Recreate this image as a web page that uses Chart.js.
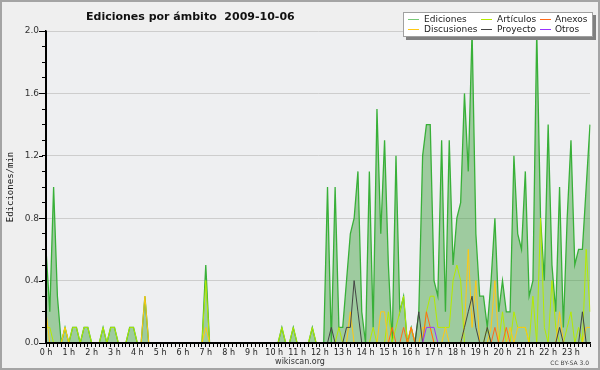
<!DOCTYPE html>
<html><head><meta charset="utf-8">
<script src="https://cdn.jsdelivr.net/npm/chart.js@4/dist/chart.umd.min.js"></script>
<style>html,body{margin:0;padding:0;background:#efefef}canvas{display:block}</style>
</head><body>
<canvas id="c" width="600" height="370"></canvas>
<script>
// hour tick labels
const hourLabels = ['0 h','1 h','2 h','3 h','4 h','5 h','6 h','7 h','8 h','9 h','10 h','11 h',
  '12 h','13 h','14 h','15 h','16 h','17 h','18 h','19 h','20 h','21 h','22 h','23 h'];
const slotsPerHour = ['00','10','20','30','40','50'];
const titleText = 'Ediciones por ámbito  2009-10-06';
const yTitle = 'Ediciones/min';

// edits per minute, 10-minute bins (6 per hour)
const ediciones = [
  0.6,0.2,1.0,0.3,0,0.1,   0,0.1,0.1,0,0.1,0.1,
  0,0,0,0.1,0,0.1,        0.1,0,0,0,0.1,0.1,
  0,0,0.3,0,0,0,          0,0,0,0,0,0,
  0,0,0,0,0,0,            0.5,0,0,0,0,0,
  0,0,0,0,0,0,            0,0,0,0,0,0,
  0,0,0.1,0,0,0.1,        0,0,0,0,0.1,0,
  0,0,1.0,0,1.0,0.1,      0.1,0.4,0.7,0.8,1.1,0.2,
  0,1.1,0.1,1.5,0.7,1.3,  0.5,0,1.2,0.2,0.3,0,
  0.1,0,0.2,1.2,1.4,1.4,  0.4,0.3,1.3,0.2,1.3,0.5,
  0.8,0.9,1.6,1.1,2.0,0.7, 0.3,0.3,0.1,0.4,0.8,0.2,
  0.4,0.2,0.2,1.2,0.7,0.6, 1.1,0.3,0.4,2.0,0.8,0.4,
  1.4,0.5,0.2,1.0,0.1,0.8, 1.3,0.5,0.6,0.6,1.0,1.4
];
const articulos = [
  0.1,0.1,0,0,0,0.1,      0,0.1,0.1,0,0.1,0.1,
  0,0,0,0.1,0,0.1,        0.1,0,0,0,0.1,0.1,
  0,0,0,0,0,0,            0,0,0,0,0,0,
  0,0,0,0,0,0,            0.4,0,0,0,0,0,
  0,0,0,0,0,0,            0,0,0,0,0,0,
  0,0,0.1,0,0,0.1,        0,0,0,0,0.1,0,
  0,0,0,0,0,0.1,          0,0,0,0,0,0,
  0,0,0.1,0,0,0,          0.2,0,0.1,0.2,0.3,0,
  0.1,0,0,0,0.2,0.3,      0.3,0.1,0.1,0.1,0.1,0.4,
  0.5,0.4,0,0,0,0,        0,0,0.1,0,0,0,
  0.2,0,0,0.2,0.1,0.1,    0.1,0,0.3,0,0.8,0.1,
  0,0.4,0.1,0,0,0.1,      0.2,0,0.1,0,0.6,0.2
];
const discusiones = [
  0.2,0,0,0,0,0.1,        0,0,0,0,0,0,
  0,0,0,0,0,0,            0,0,0,0,0,0,
  0,0,0.3,0,0,0,          0,0,0,0,0,0,
  0,0,0,0,0,0,            0.1,0,0,0,0,0,
  0,0,0,0,0,0,            0,0,0,0,0,0,
  0,0,0,0,0,0,            0,0,0,0,0,0,
  0,0,0,0,0,0,            0,0,0.2,0,0,0,
  0,0,0,0,0.2,0.2,        0,0,0,0,0,0,
  0.1,0,0,0.1,0.1,0.1,    0,0,0,0.1,0,0,
  0,0,0.1,0.6,0.1,0.4,    0,0,0,0.1,0.4,0,
  0,0,0.1,0,0.1,0.1,      0.1,0,0,0,0,0,
  0,0,0,0.2,0,0,          0,0,0,0,0.1,0.1
];
const anexos = [
  0,0,0,0,0,0, 0,0,0,0,0,0,  0,0,0,0,0,0, 0,0,0,0,0,0,
  0,0,0,0,0,0, 0,0,0,0,0,0,  0,0,0,0,0,0, 0,0,0,0,0,0,
  0,0,0,0,0,0, 0,0,0,0,0,0,  0,0,0,0,0,0, 0,0,0,0,0,0,
  0,0,0,0,0,0, 0,0,0,0,0,0,  0,0,0,0,0,0, 0,0.1,0,0,0.1,0,
  0.1,0,0,0,0.2,0.1,        0,0,0,0,0,0,
  0,0,0,0,0,0,              0,0,0,0,0.1,0,
  0,0.1,0,0,0,0,            0,0,0,0,0,0
];
const proyecto = [
  0,0,0,0,0,0, 0,0,0,0,0,0,  0,0,0,0,0,0, 0,0,0,0,0,0,
  0,0,0,0,0,0, 0,0,0,0,0,0,  0,0,0,0,0,0, 0,0,0,0,0,0,
  0,0,0,0,0,0, 0,0,0,0,0,0,  0,0,0,0,0,0, 0,0,0,0,0,0,
  0,0,0,0.1,0,0,            0,0.1,0.1,0.4,0.2,0,
  0,0,0,0,0,0,              0,0,0,0,0,0,
  0,0,0.2,0,0,0,            0,0,0,0,0,0,
  0,0,0.1,0.2,0.3,0.1,      0,0,0.1,0,0,0,
  0,0,0,0,0,0,              0,0,0,0,0,0,
  0,0,0,0.1,0,0,            0,0,0,0.2,0,0
];
const otros = [
  0,0,0,0,0,0, 0,0,0,0,0,0,  0,0,0,0,0,0, 0,0,0,0,0,0,
  0,0,0,0,0,0, 0,0,0,0,0,0,  0,0,0,0,0,0, 0,0,0,0,0,0,
  0,0,0,0,0,0, 0,0,0,0,0,0,  0,0,0,0,0,0, 0,0,0,0,0,0,
  0,0,0,0,0,0, 0,0,0,0,0,0,  0,0,0,0,0,0, 0,0,0,0,0,0,
  0,0,0,0,0.1,0.1,          0.1,0,0,0,0,0,
  0,0,0,0,0,0,              0,0,0,0,0,0,
  0,0,0,0,0,0,              0,0,0,0,0,0
];

const categories = [];
hourLabels.forEach(h => slotsPerHour.forEach(m => categories.push(h + m)));

const colors = {
  Ediciones: '#38b038', EdicionesFill: 'rgba(60,160,60,0.45)', EdicionesKey: '#77c877',
  'Artículos': '#b4ea00', Anexos: '#ff6a1a', Discusiones: '#ffc814', Proyecto: '#444444', Otros: '#9933ff'
};

const isMajor = v => Math.abs(v / 0.4 - Math.round(v / 0.4)) < 1e-6;

const deco = {
  id: 'deco',
  beforeDraw(chart) {
    const {ctx, chartArea: a} = chart;
    ctx.save();
    ctx.fillStyle = '#efefef';
    ctx.fillRect(0, 0, chart.width, chart.height);
    ctx.fillStyle = '#eeeff1';
    ctx.fillRect(a.left, a.top, a.right - a.left, a.bottom - a.top);
    ctx.restore();
  },
  afterDraw(chart) {
    const {ctx, chartArea: a} = chart;
    const y = chart.scales.y;
    ctx.save();
    // axis lines on top of the series
    ctx.strokeStyle = '#000'; ctx.lineWidth = 2;
    ctx.beginPath(); ctx.moveTo(a.left - 1, a.bottom); ctx.lineTo(a.right, a.bottom); ctx.stroke();
    ctx.beginPath(); ctx.moveTo(a.left, a.top); ctx.lineTo(a.left, a.bottom); ctx.stroke();
    // longer major ticks on y axis
    ctx.lineWidth = 1;
    y.ticks.forEach(t => {
      if (isMajor(t.value)) {
        const py = Math.round(y.getPixelForValue(t.value)) + 0.5;
        ctx.beginPath(); ctx.moveTo(a.left - 7, py); ctx.lineTo(a.left - 3, py); ctx.stroke();
      }
    });
    // title
    ctx.fillStyle = '#111';
    ctx.font = 'bold 11px "DejaVu Sans"';
    ctx.textBaseline = 'alphabetic'; ctx.textAlign = 'left';
    ctx.fillText(titleText, 86, 20);
    // legend box
    ctx.fillStyle = '#808080';
    ctx.fillRect(406, 15, 190, 25);
    ctx.fillStyle = '#ffffff';
    ctx.fillRect(403, 12, 190, 25);
    ctx.strokeStyle = '#a0a0a0'; ctx.lineWidth = 1;
    ctx.strokeRect(403.5, 12.5, 189, 24);
    const cols = [[408, 424], [481, 497], [540, 555]];
    const rows = [19.5, 29.5];
    const entries = [
      ['Ediciones', colors.EdicionesKey, 0, 0], ['Artículos', colors['Artículos'], 1, 0], ['Anexos', colors.Anexos, 2, 0],
      ['Discusiones', colors.Discusiones, 0, 1], ['Proyecto', colors.Proyecto, 1, 1], ['Otros', colors.Otros, 2, 1]
    ];
    ctx.font = '9px "DejaVu Sans"';
    ctx.textBaseline = 'middle';
    entries.forEach(([name, col, c, r]) => {
      ctx.strokeStyle = col; ctx.lineWidth = 1;
      ctx.beginPath(); ctx.moveTo(cols[c][0], rows[r]); ctx.lineTo(cols[c][0] + 11, rows[r]); ctx.stroke();
      ctx.fillStyle = '#222';
      ctx.fillText(name, cols[c][1], rows[r]);
    });
    // footer
    ctx.textBaseline = 'alphabetic';
    ctx.fillStyle = '#333';
    ctx.font = '8px "DejaVu Sans"';
    ctx.textAlign = 'center';
    ctx.fillText('wikiscan.org', 300, 364);
    ctx.font = '6px "DejaVu Sans"';
    ctx.textAlign = 'right';
    ctx.fillStyle = '#444';
    ctx.fillText('CC BY-SA 3.0', 589, 365);
    // outer border
    ctx.strokeStyle = '#a4a4a4'; ctx.lineWidth = 2;
    ctx.strokeRect(1, 1, chart.width - 2, chart.height - 2);
    ctx.restore();
  }
};

const line = (label, data, color, order) => ({
  label, data, borderColor: color, backgroundColor: color, borderWidth: 1, fill: false, order,
  pointRadius: 0, tension: 0
});

new Chart(document.getElementById('c'), {
  type: 'line',
  data: {
    labels: categories,
    datasets: [
      {label: 'Ediciones', data: ediciones, borderColor: colors.Ediciones, backgroundColor: colors.EdicionesFill,
        fill: 'origin', borderWidth: 1.3, pointRadius: 0, tension: 0, order: 10},
      line('Artículos', articulos, colors['Artículos'], 6),
      line('Discusiones', discusiones, colors.Discusiones, 5),
      line('Anexos', anexos, colors.Anexos, 4),
      line('Proyecto', proyecto, colors.Proyecto, 3),
      line('Otros', otros, colors.Otros, 2)
    ]
  },
  options: {
    responsive: false, animation: false, devicePixelRatio: 1,
    layout: {padding: {left: 0, right: 10, top: 31, bottom: 0}},
    plugins: {legend: {display: false}, tooltip: {enabled: false}, title: {display: false}},
    scales: {
      x: {
        offset: false,
        grid: {drawOnChartArea: false, drawTicks: true, tickLength: 4, color: '#000', offset: false},
        border: {color: '#000', width: 1.5},
        ticks: {autoSkip: false, maxRotation: 0, minRotation: 0, padding: 1, color: '#222',
          font: {family: 'DejaVu Sans', size: 8},
          callback: (v, i) => (i % 6 === 0 ? hourLabels[i / 6] : '')},
        afterFit: s => { s.height = 27; }
      },
      y: {
        min: 0, max: 2,
        grid: {color: c => (c.tick && isMajor(c.tick.value) && c.tick.value > 0 ? '#cdcdcd' : 'rgba(0,0,0,0)'),
          tickColor: '#000', tickLength: 4, drawTicks: true},
        border: {color: '#000', width: 1.5},
        ticks: {stepSize: 0.1, autoSkip: false, padding: 3, color: '#333',
          font: {family: 'DejaVu Sans', size: 9},
          callback: v => (isMajor(v) ? v.toFixed(1) : '')},
        title: {display: true, text: yTitle, font: {family: 'DejaVu Sans Mono', size: 9}, color: '#111',
          padding: {top: 5, bottom: 0}},
        afterFit: s => { s.width = 46; }
      }
    }
  },
  plugins: [deco]
});
</script>
</body></html>
